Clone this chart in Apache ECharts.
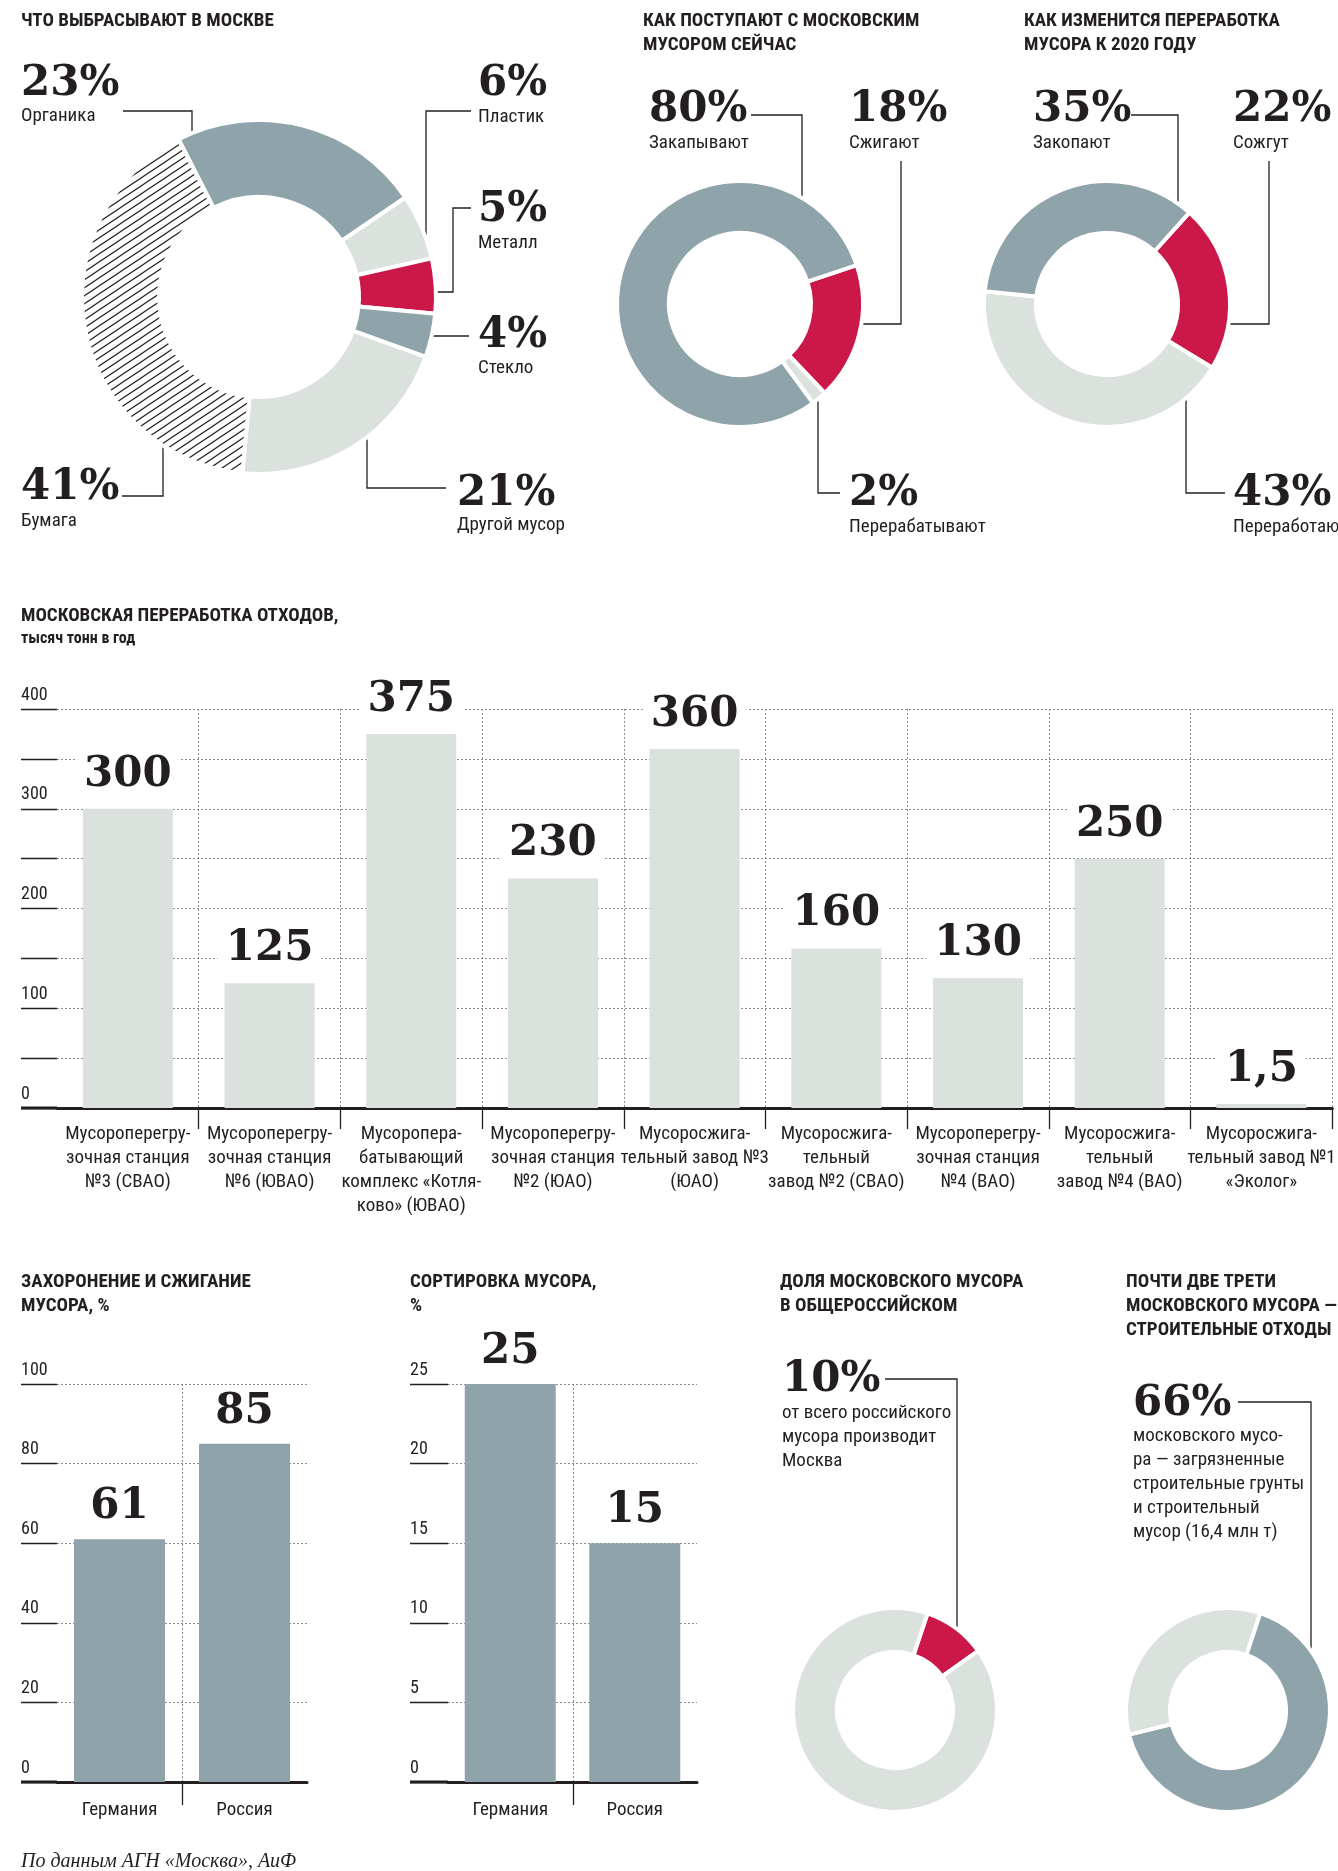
<!DOCTYPE html>
<html>
<head>
<meta charset="utf-8">
<script src="https://cdn.jsdelivr.net/npm/echarts@6/dist/echarts.min.js"></script>
<style>
  html, body { margin: 0; padding: 0; background: #fff; }
  #chart { width: 1338px; height: 1871px; }
</style>
</head>
<body>
<div id="chart"></div>
<script>
// --- данные ---
const wasteTypes = ['Органика', 'Пластик', 'Металл', 'Стекло', 'Другой мусор', 'Бумага'];
const wasteShares = [23, 6, 5, 4, 21, 41];

const nowTypes = ['Сжигают', 'Перерабатывают', 'Закапывают'];
const nowShares = [18, 2, 80];

const futureTypes = ['Сожгут', 'Переработают', 'Закопают'];
const futureShares = [22, 43, 35];

const plants = [
  'Мусороперегру-\nзочная станция\n№3 (СВАО)',
  'Мусороперегру-\nзочная станция\n№6 (ЮВАО)',
  'Мусоропера-\nбатывающий\nкомплекс «Котля-\nково» (ЮВАО)',
  'Мусороперегру-\nзочная станция\n№2 (ЮАО)',
  'Мусоросжига-\nтельный завод №3\n(ЮАО)',
  'Мусоросжига-\nтельный\nзавод №2 (СВАО)',
  'Мусороперегру-\nзочная станция\n№4 (ВАО)',
  'Мусоросжига-\nтельный\nзавод №4 (ВАО)',
  'Мусоросжига-\nтельный завод №1\n«Эколог»'
];
const plantCapacity = [300, 125, 375, 230, 360, 160, 130, 250, 1.5];

const countries = ['Германия', 'Россия'];
const burialShare = [61, 85];
const sortingShare = [25, 15];

const moscowShare = [10, 90];
const buildingShare = [66, 34];

// --- стиль ---
const INK = '#231f20', BLUE = '#8fa3aa', PALE = '#dbe1dd', RED = '#cc1849', DASH = '#8c8c8c';
const COND = "'Noto Sans Condensed','Roboto Condensed','DejaVu Sans Condensed','Liberation Sans Narrow','Noto Sans',sans-serif";
const SERIF = "'DejaVu Serif','Liberation Serif',serif";

// штриховка для бумаги
const hatch = document.createElement('canvas');
hatch.width = 12; hatch.height = 8;
(function () {
  const c = hatch.getContext('2d');
  c.strokeStyle = INK;
  c.lineWidth = 1.2;
  c.beginPath();
  c.moveTo(0, 8); c.lineTo(12, 0);
  c.moveTo(-12, 8); c.lineTo(12, -8);
  c.moveTo(0, 16); c.lineTo(24, 0);
  c.stroke();
})();

const chart = echarts.init(document.getElementById('chart'), null, { width: 1338, height: 1871 });

function donut(center, radius, startAngle, names, values, colors) {
  return {
    type: 'pie', center: center, radius: radius, startAngle: startAngle, clockwise: true,
    silent: true, label: { show: false }, labelLine: { show: false },
    emphasis: { disabled: true },
    itemStyle: { borderColor: '#fff', borderWidth: 4 },
    data: names.map((n, i) => ({ name: n, value: values[i], itemStyle: { color: colors[i] } }))
  };
}

function valueAxis(grid, max, step, tickLen, every) {
  return {
    type: 'value', gridIndex: grid, min: 0, max: max, interval: step,
    axisLine: { show: false },
    axisTick: { show: true, length: tickLen, lineStyle: { color: INK, width: 1.3 } },
    axisLabel: {
      align: 'left', margin: tickLen, verticalAlign: 'bottom', padding: [0, 0, 5, 0],
      fontFamily: COND, fontSize: 18, color: INK,
      formatter: v => (v % every === 0 ? String(v) : '')
    },
    splitLine: { lineStyle: { color: DASH, width: 1, type: [2, 2] } }
  };
}

function catAxis(grid, data, sep, margin) {
  return {
    type: 'category', gridIndex: grid, data: data,
    axisLine: { lineStyle: { color: INK, width: 3 } },
    axisTick: sep ? { show: true, interval: i => i > 0, length: 21, lineStyle: { color: INK, width: 1.3 } } : { show: false },
    splitLine: sep ? { show: true, interval: i => i > 0, lineStyle: { color: DASH, width: 1, type: [2, 2] } } : { show: false },
    axisLabel: { interval: 0, margin: margin, fontFamily: COND, fontSize: 19, lineHeight: 24, color: INK }
  };
}

function bars(ax, data, color, width, dist) {
  return {
    type: 'bar', xAxisIndex: ax, yAxisIndex: ax, data: data, barWidth: width, barMinHeight: 4,
    silent: true, itemStyle: { color: color },
    label: {
      show: true, position: 'top', distance: dist,
      formatter: p => String(p.value).replace('.', ','),
      fontFamily: SERIF, fontWeight: 'bold', fontSize: 42, lineHeight: 42, color: INK,
      backgroundColor: '#fff', padding: [4, 8, 4, 8]
    }
  };
}

const grids = [
  { left: 57, top: 709, width: 1287, height: 399 },
  { left: 57, top: 1384, width: 250, height: 398 },
  { left: 448, top: 1384, width: 249, height: 398 }
];

chart.setOption({
  animation: false,
  grid: grids,
  xAxis: [
    catAxis(0, plants, true, 14),
    catAxis(1, countries, false, 16),
    catAxis(2, countries, false, 16)
  ],
  yAxis: [
    valueAxis(0, 400, 50, 36, 100),
    valueAxis(1, 100, 20, 36, 20),
    valueAxis(2, 25, 5, 38, 5)
  ],
  series: [
    donut([259, 297], [100, 177], 117, wasteTypes, wasteShares,
      [BLUE, PALE, RED, BLUE, PALE, { image: hatch, repeat: 'repeat' }]),
    donut([740, 304], [71, 123], 18.4, nowTypes, nowShares, [RED, PALE, BLUE]),
    donut([1107, 304], [71, 123], 48, futureTypes, futureShares, [RED, PALE, BLUE]),
    donut([895, 1710], [58, 102], 71.4, ['Москва', 'Остальная Россия'], moscowShare, [RED, PALE]),
    donut([1228, 1710], [58, 102], 71.6, ['Строительные отходы', 'Прочее'], buildingShare, [BLUE, PALE]),
    bars(0, plantCapacity, PALE, 90, 9),
    bars(1, burialShare, BLUE, 91, 7),
    bars(2, sortingShare, BLUE, 91, 7)
  ]
});

// --- подписи и выноски ---
const els = [];
function txt(x, y, s, o) {
  els.push({ type: 'text', x: x, y: y, silent: true,
    style: Object.assign({ text: s, fill: INK, align: 'left', verticalAlign: 'middle',
      fontStyle: 'condensed', fontFamily: COND, fontSize: 19 }, o || {}) });
}
function big(x, y, s) { txt(x, y, s, { fontStyle: 'normal', fontFamily: SERIF, fontWeight: 'bold', fontSize: 42 }); }
function head(x, y, s) { txt(x, y, s, { fontWeight: 'bold', fontSize: 19, lineHeight: 24, verticalAlign: 'top' }); }
function body(x, y, s) { txt(x, y, s, { lineHeight: 24, verticalAlign: 'top' }); }
function lead(pts, o) {
  els.push({ type: 'polyline', silent: true, shape: { points: pts },
    style: Object.assign({ stroke: INK, lineWidth: 1.3, fill: null }, o || {}) });
}
const pct = v => String(v).replace('.', ',') + '%';

head(21, 9, 'ЧТО ВЫБРАСЫВАЮТ В МОСКВЕ');
head(643, 9, 'КАК ПОСТУПАЮТ С МОСКОВСКИМ\nМУСОРОМ СЕЙЧАС');
head(1024, 9, 'КАК ИЗМЕНИТСЯ ПЕРЕРАБОТКА\nМУСОРА К 2020 ГОДУ');

// что выбрасывают
big(21, 84, pct(wasteShares[0]));  txt(21, 116, wasteTypes[0]);
big(478, 84, pct(wasteShares[1])); txt(478, 117, wasteTypes[1]);
big(478, 210, pct(wasteShares[2])); txt(478, 243, wasteTypes[2]);
big(478, 336, pct(wasteShares[3])); txt(478, 368, wasteTypes[3]);
big(457, 494, pct(wasteShares[4])); txt(457, 525, wasteTypes[4]);
big(21, 488, pct(wasteShares[5])); txt(21, 521, wasteTypes[5]);
lead([[123, 111], [192, 111], [192, 136]]);
lead([[471, 111], [426, 111], [426, 243]]);
lead([[471, 208], [453, 208], [453, 292], [436, 292]]);
lead([[430, 336], [469, 336]]);
lead([[446, 488], [367, 488], [367, 431]]);
lead([[122, 496], [163, 496], [163, 443]]);

// сейчас
big(649, 110, pct(nowShares[2])); txt(649, 143, nowTypes[2]);
big(849, 110, pct(nowShares[0])); txt(849, 143, nowTypes[0]);
big(849, 494, pct(nowShares[1])); txt(849, 527, nowTypes[1]);
lead([[751, 115], [802, 115], [802, 200]]);
lead([[901, 161], [901, 324], [861, 324]]);
lead([[840, 493], [818, 493], [818, 396]]);

// к 2020 году
big(1033, 110, pct(futureShares[2])); txt(1033, 143, futureTypes[2]);
big(1233, 110, pct(futureShares[0])); txt(1233, 143, futureTypes[0]);
big(1233, 494, pct(futureShares[1])); txt(1233, 527, futureTypes[1]);
lead([[1131, 115], [1178, 115], [1178, 207]]);
lead([[1269, 161], [1269, 324], [1228, 324]]);
lead([[1225, 493], [1186, 493], [1186, 395]]);

// переработка
txt(21, 616, 'МОСКОВСКАЯ ПЕРЕРАБОТКА ОТХОДОВ,', { fontWeight: 'bold', fontSize: 19 });
txt(21, 639, 'тысяч тонн в год', { fontWeight: 'bold', fontSize: 16 });

// нижний ряд
head(21, 1270, 'ЗАХОРОНЕНИЕ И СЖИГАНИЕ\nМУСОРА, %');
head(410, 1270, 'СОРТИРОВКА МУСОРА,\n%');
head(780, 1270, 'ДОЛЯ МОСКОВСКОГО МУСОРА\nВ ОБЩЕРОССИЙСКОМ');
head(1126, 1270, 'ПОЧТИ ДВЕ ТРЕТИ\nМОСКОВСКОГО МУСОРА —\nСТРОИТЕЛЬНЫЕ ОТХОДЫ');

big(782, 1380, pct(moscowShare[0]));
body(782, 1401, 'от всего российского\nмусора производит\nМосква');
lead([[885, 1379], [957, 1379], [957, 1628]]);

big(1133, 1404, pct(buildingShare[0]));
body(1133, 1424, 'московского мусо-\nра — загрязненные\nстроительные грунты\nи строительный\nмусор (16,4 млн т)');
lead([[1238, 1402], [1311, 1402], [1311, 1654]]);

txt(21, 1862, 'По данным АГН «Москва», АиФ', { fontFamily: "'Liberation Serif',serif", fontStyle: 'italic', fontSize: 20 });

// продолжение оси влево под подписями
grids.forEach((g, i) => {
  const y = g.top + g.height;
  const x0 = i === 2 ? 410 : 21;
  lead([[x0, y], [g.left, y]], { lineWidth: 3 });
});

// разделители между странами
[1, 2].forEach(ax => {
  const a = chart.convertToPixel({ xAxisIndex: ax }, countries[0]);
  const b = chart.convertToPixel({ xAxisIndex: ax }, countries[1]);
  const x = Math.round((a + b) / 2) + 0.5;
  const g = grids[ax];
  lead([[x, g.top], [x, g.top + g.height]], { stroke: DASH, lineWidth: 1, lineDash: [2, 2] });
  lead([[x, g.top + g.height], [x, g.top + g.height + 23]]);
});

chart.setOption({ graphic: { elements: els } });
</script>
</body>
</html>
